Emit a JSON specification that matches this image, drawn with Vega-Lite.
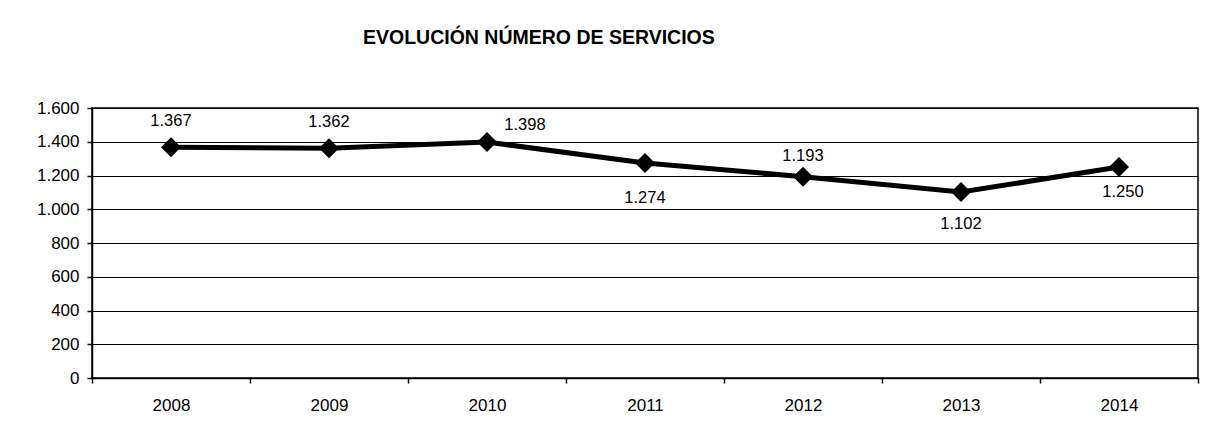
{
  "$schema": "https://vega.github.io/schema/vega-lite/v6.json",
  "width": 1106,
  "height": 270,
  "autosize": {"type": "none"},
  "padding": {"left": 92, "top": 108, "right": 9, "bottom": 56},
  "background": "white",
  "config": {
    "font": "Liberation Sans",
    "view": {"stroke": "black", "strokeWidth": 1.5},
    "locale": {"number": {"decimal": ",", "thousands": ".", "grouping": [3], "currency": ["", " €"]}}
  },
  "title": {
    "text": "EVOLUCIÓN NÚMERO DE SERVICIOS",
    "anchor": "start",
    "frame": "group",
    "dx": 271,
    "offset": 36,
    "baseline": "alphabetic",
    "fontSize": 19.5,
    "fontWeight": "bold",
    "color": "black",
    "font": "Liberation Sans"
  },
  "data": {
    "values": [
      {"year": "2008", "value": 1367},
      {"year": "2009", "value": 1362},
      {"year": "2010", "value": 1398},
      {"year": "2011", "value": 1274},
      {"year": "2012", "value": 1193},
      {"year": "2013", "value": 1102},
      {"year": "2014", "value": 1250}
    ]
  },
  "encoding": {
    "x": {
      "field": "year", "type": "ordinal",
      "scale": {"type": "band", "paddingInner": 0, "paddingOuter": 0},
      "axis": {
        "title": null, "labelAngle": 0, "tickBand": "extent",
        "domainColor": "black", "domainWidth": 1.5, "tickColor": "black", "tickWidth": 1.5, "tickSize": 5,
        "labelFontSize": 17, "labelColor": "black", "labelPadding": 14, "grid": false
      }
    },
    "y": {
      "field": "value", "type": "quantitative",
      "scale": {"domain": [0, 1600], "nice": false},
      "axis": {
        "title": null, "values": [0, 200, 400, 600, 800, 1000, 1200, 1400, 1600],
        "format": ",.0f", "grid": true, "gridColor": "black", "gridWidth": 1.2, "gridOpacity": 1,
        "domainColor": "black", "domainWidth": 1.5, "tickColor": "black", "tickWidth": 1.5, "tickSize": 5,
        "labelFontSize": 17, "labelColor": "black", "labelPadding": 8
      }
    }
  },
  "layer": [
    {"mark": {"type": "line", "color": "black", "strokeWidth": 5}},
    {"mark": {"type": "point", "shape": "diamond", "filled": true, "color": "black", "size": 400, "opacity": 1}},
    {
      "transform": [{"filter": "datum.year == '2008' || datum.year == '2009'"}],
      "mark": {"type": "text", "fontSize": 16.5, "color": "black", "baseline": "middle", "dy": -26},
      "encoding": {"text": {"field": "value", "type": "quantitative", "format": ",.0f"}}
    },
    {
      "transform": [{"filter": "datum.year == '2012'"}],
      "mark": {"type": "text", "fontSize": 16.5, "color": "black", "baseline": "middle", "dy": -21},
      "encoding": {"text": {"field": "value", "type": "quantitative", "format": ",.0f"}}
    },
    {
      "transform": [{"filter": "datum.year == '2010'"}],
      "mark": {"type": "text", "fontSize": 16.5, "color": "black", "baseline": "middle", "dx": 38, "dy": -17},
      "encoding": {"text": {"field": "value", "type": "quantitative", "format": ",.0f"}}
    },
    {
      "transform": [{"filter": "datum.year == '2011'"}],
      "mark": {"type": "text", "fontSize": 16.5, "color": "black", "baseline": "middle", "dy": 35},
      "encoding": {"text": {"field": "value", "type": "quantitative", "format": ",.0f"}}
    },
    {
      "transform": [{"filter": "datum.year == '2013'"}],
      "mark": {"type": "text", "fontSize": 16.5, "color": "black", "baseline": "middle", "dy": 32},
      "encoding": {"text": {"field": "value", "type": "quantitative", "format": ",.0f"}}
    },
    {
      "transform": [{"filter": "datum.year == '2014'"}],
      "mark": {"type": "text", "fontSize": 16.5, "color": "black", "baseline": "middle", "dx": 4, "dy": 25},
      "encoding": {"text": {"field": "value", "type": "quantitative", "format": ",.0f"}}
    }
  ]
}
